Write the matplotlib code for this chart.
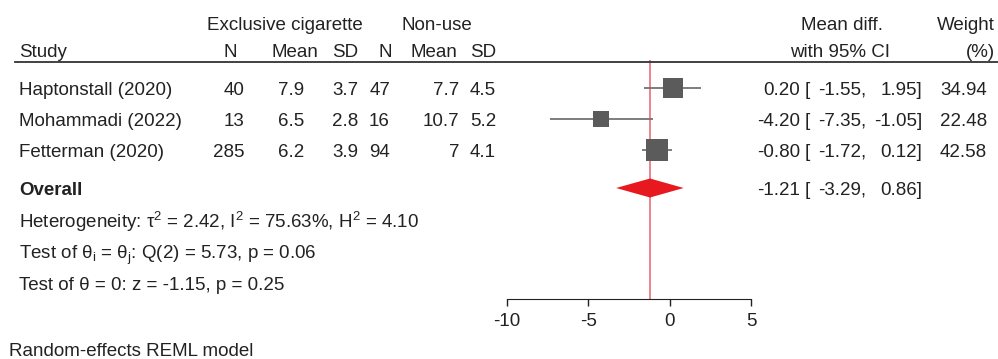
import numpy as np
import matplotlib.pyplot as plt
from matplotlib.patches import Polygon

plt.rcParams['font.family'] = ['Liberation Sans', 'DejaVu Sans']
plt.rcParams['mathtext.fontset'] = 'custom'
plt.rcParams['mathtext.rm'] = 'Liberation Sans'
plt.rcParams['mathtext.it'] = 'Liberation Sans:italic'
plt.rcParams['mathtext.bf'] = 'Liberation Sans:bold'

# Study data
studies = ['Haptonstall (2020)', 'Mohammadi (2022)', 'Fetterman (2020)']
n_cig = [40, 13, 285]
mean_cig = [7.9, 6.5, 6.2]
sd_cig = [3.7, 2.8, 3.9]
n_non = [47, 16, 94]
mean_non = [7.7, 10.7, 7]
sd_non = [4.5, 5.2, 4.1]

mean_diff = [0.20, -4.20, -0.80]
ci_low = [-1.55, -7.35, -1.72]
ci_high = [1.95, -1.05, 0.12]
weights = [34.94, 22.48, 42.58]

overall = -1.21
overall_low = -3.29
overall_high = 0.86

stats_lines = [
    r'Heterogeneity: $\mathregular{\tau^2}$ = 2.42, $\mathregular{I^2}$ = 75.63%, $\mathregular{H^2}$ = 4.10',
    r'Test of $\mathregular{θ_i}$ = $\mathregular{θ_j}$: Q(2) = 5.73, p = 0.06',
    'Test of θ = 0: z = -1.15, p = 0.25',
]
xticks = [-10, -5, 0, 5]

W, H = 998, 359
FS = 13.5
TXT = '#222222'
BASE = 6.7  # px from visual centre of caps down to baseline

fig = plt.figure(figsize=(W / 100, H / 100), dpi=100)


def put(x, y, s, ha='left', **kw):
    # place text in pixel coords (top-left origin), y = visual centre of the line
    fig.text(x / W, 1 - (y + BASE) / H, s, ha=ha, va='baseline',
             fontsize=FS, color=TXT, **kw)


# header
put(285, 23, 'Exclusive cigarette', ha='center')
put(437, 23, 'Non-use', ha='center')
put(842, 23, 'Mean diff.', ha='center')
put(995, 23, 'Weight', ha='right')
put(19, 50, 'Study')
for x, lab in zip([237, 318, 358, 392, 457, 496], ['N', 'Mean', 'SD', 'N', 'Mean', 'SD']):
    put(x, 50, lab, ha='right')
put(840, 50, 'with 95% CI', ha='center')
put(980, 50, '(%)', ha='center')
fig.add_artist(plt.Line2D([15 / W, 1], [1 - 62 / H] * 2, color='#333333', lw=1.3))

# study rows
row_px = [88, 119, 150]
for i, y in enumerate(row_px):
    put(19, y, studies[i])
    cols = [n_cig[i], mean_cig[i], sd_cig[i], n_non[i], mean_non[i], sd_non[i]]
    for x, v in zip([244, 304, 358, 390, 459, 496], cols):
        put(x, y, f'{v:g}', ha='right')
    put(800, y, f'{mean_diff[i]:.2f}', ha='right')
    put(805, y, '[', ha='left')
    put(866, y, f'{ci_low[i]:.2f},', ha='right')
    put(922, y, f'{ci_high[i]:.2f}]', ha='right')
    put(987, y, f'{weights[i]:.2f}', ha='right')

put(19, 188, 'Overall', fontweight='bold')
put(800, 188, f'{overall:.2f}', ha='right')
put(805, 188, '[', ha='left')
put(866, 188, f'{overall_low:.2f},', ha='right')
put(922, 188, f'{overall_high:.2f}]', ha='right')

for y, s in zip([221, 252, 283], stats_lines):
    put(19, y, s)
put(9, 349, 'Random-effects REML model')

# forest panel: x -10..5 -> px 507..751, y px 60..299
top_px, bot_px, step = 60, 299, 31.0
ax = fig.add_axes([507 / W, 1 - bot_px / H, (751 - 507) / W, (bot_px - top_px) / H])
ax.set_xlim(-10, 5)
y0 = (top_px - row_px[0]) / step
y1 = (bot_px - row_px[0]) / step
ax.set_ylim(y1, y0)
ax.patch.set_visible(False)

rows = np.arange(len(studies))
ov_row = (188 - row_px[0]) / step

ax.axvline(overall, color='#e8707c', lw=1.2, zorder=1)
ax.hlines(rows, ci_low, ci_high, color='#737373', lw=1.3, zorder=2)
ax.scatter(mean_diff, rows, s=np.array(weights) * 5.8, marker='s',
           color='#5b5b5b', zorder=3, linewidths=0)
hh = 9.5 / step
ax.add_patch(Polygon([[overall_low, ov_row], [overall, ov_row - hh],
                      [overall_high, ov_row], [overall, ov_row + hh]],
                     closed=True, color='#e8181f', zorder=4, lw=0))

for s in ['top', 'right', 'left']:
    ax.spines[s].set_visible(False)
ax.spines['bottom'].set_bounds(-10, 5)
ax.spines['bottom'].set_color('#222222')
ax.set_yticks([])
ax.set_xticks(xticks)
ax.set_xticklabels([str(t) for t in xticks])
ax.tick_params(axis='x', length=5, width=1, colors='#222222', labelsize=FS, pad=5)

fig.savefig('out.png', dpi=100)
